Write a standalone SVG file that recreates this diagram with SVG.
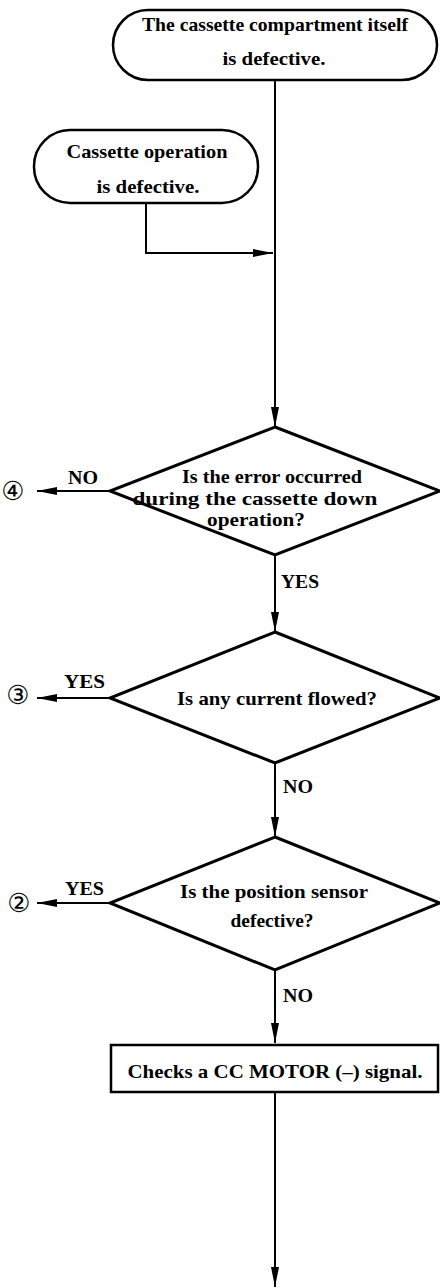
<svg xmlns="http://www.w3.org/2000/svg" width="440" height="1288" viewBox="0 0 440 1288">
<style>
.shape{fill:#fff;stroke:#000;stroke-width:2.5}
.dia{fill:#fff;stroke:#000;stroke-width:3}
.line{fill:none;stroke:#000;stroke-width:2}
text{font-family:"Liberation Serif","Times New Roman",serif;font-size:19px;font-weight:bold;fill:#000}
.c{text-anchor:middle}
.num{font-family:"DejaVu Sans",sans-serif;font-size:26px;font-weight:normal}
</style>
<defs>
<marker id="ah" markerWidth="20" markerHeight="8" refX="20" refY="4" orient="auto" markerUnits="userSpaceOnUse">
<path d="M0,0 L20,4 L0,8 Z" fill="#000"/>
</marker>
</defs>
<g id="connectors">
<path class="line" d="M275,80 V427" marker-end="url(#ah)"/>
<path class="line" d="M146,203 V253 H273" marker-end="url(#ah)"/>
<path class="line" d="M110,491 H37" marker-end="url(#ah)"/>
<path class="line" d="M275,555 V632" marker-end="url(#ah)"/>
<path class="line" d="M110,698 H37" marker-end="url(#ah)"/>
<path class="line" d="M275,763 V837" marker-end="url(#ah)"/>
<path class="line" d="M110,903 H37" marker-end="url(#ah)"/>
<path class="line" d="M275,970 V1043" marker-end="url(#ah)"/>
<path class="line" d="M275,1092 V1287" marker-end="url(#ah)"/>
<text x="281" y="588" textLength="38" lengthAdjust="spacingAndGlyphs">YES</text>
<text x="64" y="688" textLength="41" lengthAdjust="spacingAndGlyphs">YES</text>
<text x="283" y="793" textLength="30" lengthAdjust="spacingAndGlyphs">NO</text>
<text x="65" y="895" textLength="39" lengthAdjust="spacingAndGlyphs">YES</text>
<text x="283" y="1002" textLength="30" lengthAdjust="spacingAndGlyphs">NO</text>
<text x="68" y="484" textLength="30" lengthAdjust="spacingAndGlyphs">NO</text>
</g>
<g id="start1">
<rect class="shape" x="113" y="10" width="324" height="70" rx="35"/>
<text class="c" x="275" y="31" textLength="266" lengthAdjust="spacingAndGlyphs">The cassette compartment itself</text>
<text class="c" x="274" y="65" textLength="103" lengthAdjust="spacingAndGlyphs">is defective.</text>
</g>
<g id="start2">
<rect class="shape" x="34" y="130" width="224" height="73" rx="36"/>
<text class="c" x="147" y="158" textLength="161" lengthAdjust="spacingAndGlyphs">Cassette operation</text>
<text class="c" x="148" y="193" textLength="103" lengthAdjust="spacingAndGlyphs">is defective.</text>
</g>
<g id="d1">
<polygon class="dia" points="275,427 440,491 275,555 110,491"/>
<text class="c" x="272" y="483" textLength="180" lengthAdjust="spacingAndGlyphs">Is the error occurred</text>
<text class="c" x="255" y="505" textLength="245" lengthAdjust="spacingAndGlyphs">during the cassette down</text>
<text class="c" x="256" y="526" textLength="98" lengthAdjust="spacingAndGlyphs">operation?</text>
</g>
<g id="d2">
<polygon class="dia" points="275,632 440,698 275,763 110,698"/>
<text class="c" x="277" y="705" textLength="200" lengthAdjust="spacingAndGlyphs">Is any current flowed?</text>
</g>
<g id="d3">
<polygon class="dia" points="275,837 440,903 275,970 110,903"/>
<text class="c" x="274" y="898" textLength="188" lengthAdjust="spacingAndGlyphs">Is the position sensor</text>
<text class="c" x="272" y="927" textLength="83" lengthAdjust="spacingAndGlyphs">defective?</text>
</g>
<g id="p1">
<rect class="shape" x="111" y="1045" width="327" height="47"/>
<text class="c" x="275" y="1078" textLength="295" lengthAdjust="spacingAndGlyphs">Checks a CC MOTOR (–) signal.</text>
</g>
<g id="c4"><text class="num c" x="13" y="500">④</text></g>
<g id="c3"><text class="num c" x="18" y="704">③</text></g>
<g id="c2"><text class="num c" x="19" y="912">②</text></g>
</svg>
